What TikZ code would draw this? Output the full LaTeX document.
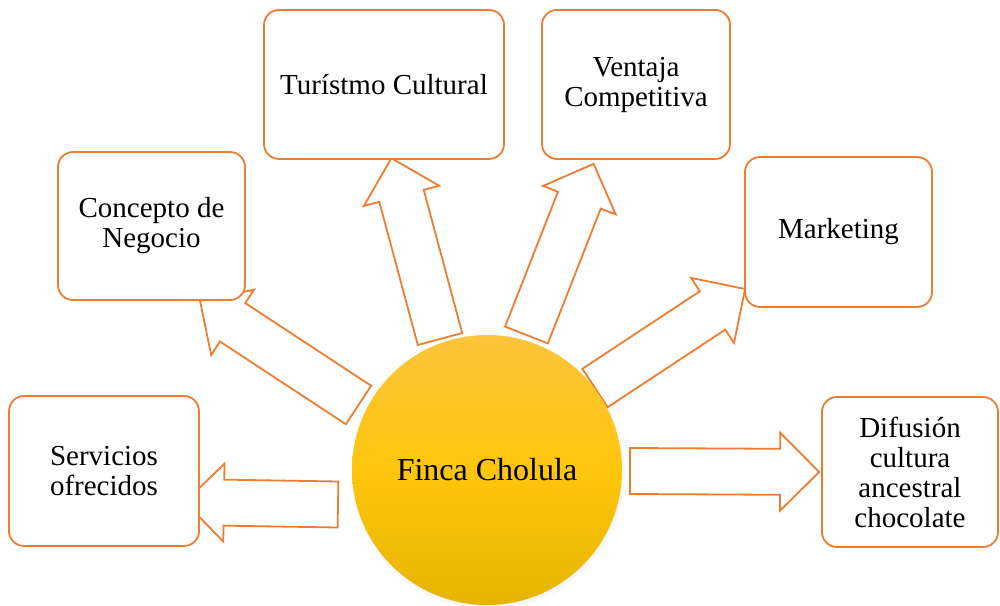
\documentclass[tikz,border=0pt]{standalone}
\usepackage{fontspec}
\setmainfont{Liberation Serif}
\usetikzlibrary{calc, shadows}
\definecolor{borange}{HTML}{ED7D31}
\definecolor{goldtop}{HTML}{FDC43C}
\definecolor{goldmid}{HTML}{FEC60C}
\definecolor{goldbot}{HTML}{E6B400}
\pgfdeclarelayer{background}
\pgfsetlayers{background,main}
\tikzset{
    topicbox/.style={rectangle, rounded corners=15pt, draw=borange, line width=1.8pt,
                     fill=white, align=center, inner sep=2pt,
                     font=\fontsize{29}{30}\selectfont},
    hub/.style={circle, minimum size=270pt, inner sep=0pt,
                top color=goldtop, bottom color=goldbot, middle color=goldmid,
                circular drop shadow={shadow xshift=1pt, shadow yshift=-2pt, shadow scale=1.03, opacity=0.25},
                font=\fontsize{32}{34}\selectfont},
    blockarr/.style={draw=borange, line width=1.8pt, fill=white, line join=miter},
}
% outlined block arrow from tail #1 to tip #2
\newcommand{\blockarrow}[2]{%
    \coordinate (ba-t) at #1;
    \coordinate (ba-p) at #2;
    \coordinate (ba-h) at ($(ba-p)!39pt!(ba-t)$);
    \draw[blockarr] ($(ba-t)!23pt!90:(ba-p)$) -- ($(ba-h)!23pt!-90:(ba-t)$)
        -- ($(ba-h)!39pt!-90:(ba-t)$) -- (ba-p) -- ($(ba-h)!39pt!90:(ba-t)$)
        -- ($(ba-h)!23pt!90:(ba-t)$) -- ($(ba-t)!23pt!-90:(ba-p)$) -- cycle;
}

\begin{document}
\begin{tikzpicture}[x=1pt, y=1pt]

    \useasboundingbox (0,0) rectangle (1000,605);

    \node[hub] (cholula) at (487,135) {Finca Cholula};

    \node[topicbox, minimum width=190pt, minimum height=150pt] (servicios) at (104,134) {Servicios\\ofrecidos};
    \node[topicbox, minimum width=187pt, minimum height=148pt] (concepto) at (151.5,379) {Concepto de\\Negocio};
    \node[topicbox, minimum width=240pt, minimum height=149pt] (turismo) at (384,520.5) {Turístmo Cultural};
    \node[topicbox, minimum width=188pt, minimum height=149pt] (ventaja) at (636,520.5) {Ventaja\\Competitiva};
    \node[topicbox, minimum width=187pt, minimum height=150pt] (marketing) at (838.5,373) {Marketing};
    \node[topicbox, minimum width=176pt, minimum height=150pt] (difusion) at (910,133) {Difusión\\cultura\\ancestral\\chocolate};

    % arrows go behind the boxes so the tips tuck under them
    \begin{pgfonlayer}{background}
        \blockarrow{($(cholula)+(-149,-34.5)$)}{($(servicios.east)+(-15,-31)$)}
        \blockarrow{($(cholula)+(-128.5,65)$)}{($(concepto.south)+(48.5,0)$)}
        \blockarrow{($(cholula)+(-47,131)$)}{($(turismo.south)+(7.4,1.7)$)}
        \blockarrow{($(cholula)+(39.5,135)$)}{($(ventaja.south)+(-42.4,-4)$)}
        \blockarrow{($(cholula)+(108,82)$)}{($(marketing.west)+(1,-57)$)}
        \blockarrow{($(cholula)+(143,-1)$)}{($(difusion.west)+(-2,0)$)}
    \end{pgfonlayer}

\end{tikzpicture}
\end{document}
